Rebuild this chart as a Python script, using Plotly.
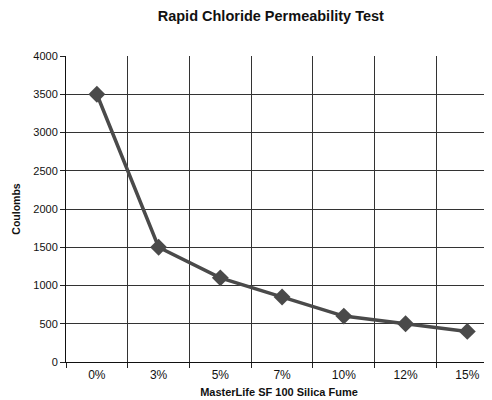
import plotly.graph_objects as go

categories = ["0%", "3%", "5%", "7%", "10%", "12%", "15%"]
coulombs = [3500, 1500, 1100, 850, 600, 500, 400]

fig = go.Figure()
fig.add_trace(go.Scatter(
    x=categories, y=coulombs, mode="lines+markers",
    line=dict(color="#4a4a4a", width=3.5),
    marker=dict(symbol="diamond", size=13, color="#4a4a4a"),
    showlegend=False, cliponaxis=False,
))

font_family = "Liberation Sans, Arial, Helvetica, sans-serif"
fig.update_layout(
    width=484, height=392,
    margin=dict(l=58, r=0, t=48, b=38),
    paper_bgcolor="white", plot_bgcolor="white",
    font=dict(family=font_family, color="#111", size=11),
    title=dict(text="<b>Rapid Chloride Permeability Test</b>", x=0.543, xanchor="center",
               y=0.98, yanchor="middle", font=dict(size=14.5, color="#111")),
)
fig.update_xaxes(
    type="category", range=[-0.5, 6.4], tickson="boundaries",
    showgrid=True, gridcolor="#333", gridwidth=1,
    ticks="outside", ticklen=5, tickcolor="#222",
    showline=True, linecolor="#111", linewidth=1,
    tickfont=dict(size=12, color="#111"), ticklabelstandoff=2,
    title=dict(text="<b>MasterLife SF 100 Silica Fume</b>", font=dict(size=11, color="#111"), standoff=6),
    zeroline=False,
)
fig.update_yaxes(
    range=[0, 4000], dtick=500,
    showgrid=True, gridcolor="#333", gridwidth=1,
    ticks="outside", ticklen=5, tickcolor="#222",
    showline=True, linecolor="#111", linewidth=1,
    tickfont=dict(size=11, color="#111"),
    title=dict(text="<b>Coulombs</b>", font=dict(size=10.5, color="#111"), standoff=10),
    zeroline=False,
)

fig.write_html("out.html")
